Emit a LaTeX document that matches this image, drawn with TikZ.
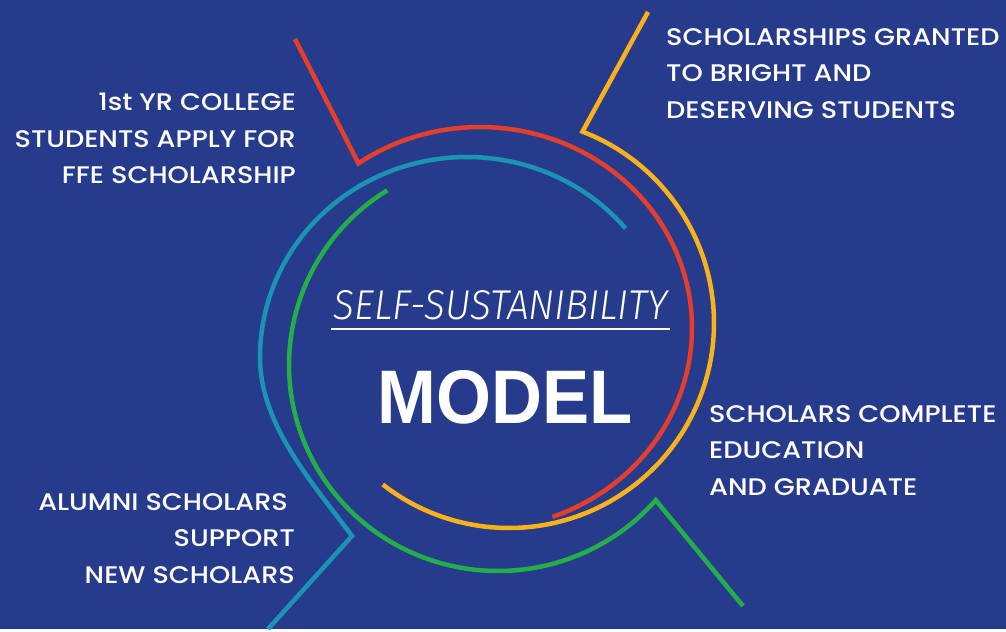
\documentclass[tikz,border=0pt]{standalone}
\usepackage{fontspec}
\setmainfont{Poppins Medium}[FakeStretch=1.13]
\newfontfamily\condfont{Fira Sans Light}[ItalicFont={Fira Sans Light Italic}]
\newfontfamily\heavyfont{Liberation Sans}
\usepackage{tikz}
\usetikzlibrary{positioning}
\definecolor{bgblue}{HTML}{273B8C}
\definecolor{arcred}{HTML}{E63E2A}
\definecolor{arcyellow}{HTML}{FBB219}
\definecolor{arcgreen}{HTML}{24AE4A}
\definecolor{arcblue}{HTML}{1B93B5}

\begin{document}
\begin{tikzpicture}[x=1pt, y=-1pt,
        arc/.style={line width=4.5pt, line join=miter},
        ring/.style={smooth, samples=90},
        steptext/.style={text=white, inner sep=0pt, font=\fontsize{24}{36.5}\selectfont}]
    \fill[bgblue] (0,0) rectangle (1006,629);
    \draw[arc, arcred] (295,39) -- plot[ring, domain=-125:70] ({480+212*cos(\x)}, {328+201*sin(\x)});
    \draw[arc, arcyellow] (648,12) -- plot[ring, domain=-69:128] ({509+205*cos(\x)}, {323+205*sin(\x)});
    \draw[arc, arcgreen] plot[ring, domain=238:41] ({498+209*cos(\x)}, {365+206*sin(\x)}) -- (743,606);
    \draw[arc, arcblue] (268,629) -- (352,536) .. controls (312,482) and (260,425) .. (260,357)
        -- plot[ring, domain=180:320] ({467+207*cos(\x)}, {357+200*sin(\x)});

    \node[steptext, anchor=north east, align=right] (apply) at (296,93)
        {1st YR COLLEGE\\STUDENTS APPLY FOR\\FFE SCHOLARSHIP};
    \node[steptext, anchor=north west, align=left] (granted) at (666,28)
        {SCHOLARSHIPS GRANTED\\TO BRIGHT AND\\DESERVING STUDENTS};
    \node[steptext, anchor=north west, align=left] (graduate) at (709,405)
        {SCHOLARS COMPLETE\\EDUCATION\\AND GRADUATE};
    \node[steptext, anchor=north east, align=right] (alumni) at (295,493)
        {ALUMNI SCHOLARS\hspace*{7pt}\\SUPPORT\\NEW SCHOLARS};

    \node[text=white, inner sep=0pt, anchor=base] (title) at (501,319)
        {\resizebox{334pt}{29pt}{\condfont\itshape SELF-SUSTANIBILITY}};
    \draw[white, line width=1.8pt] ([xshift=-3pt, yshift=-10pt]title.base west)
        -- ([xshift=2pt, yshift=-10pt]title.base east);
    \node[text=white, inner sep=0pt, anchor=base] (model) at (505,423)
        {\resizebox{255pt}{53pt}{\heavyfont\bfseries MODEL}};
\end{tikzpicture}
\end{document}
